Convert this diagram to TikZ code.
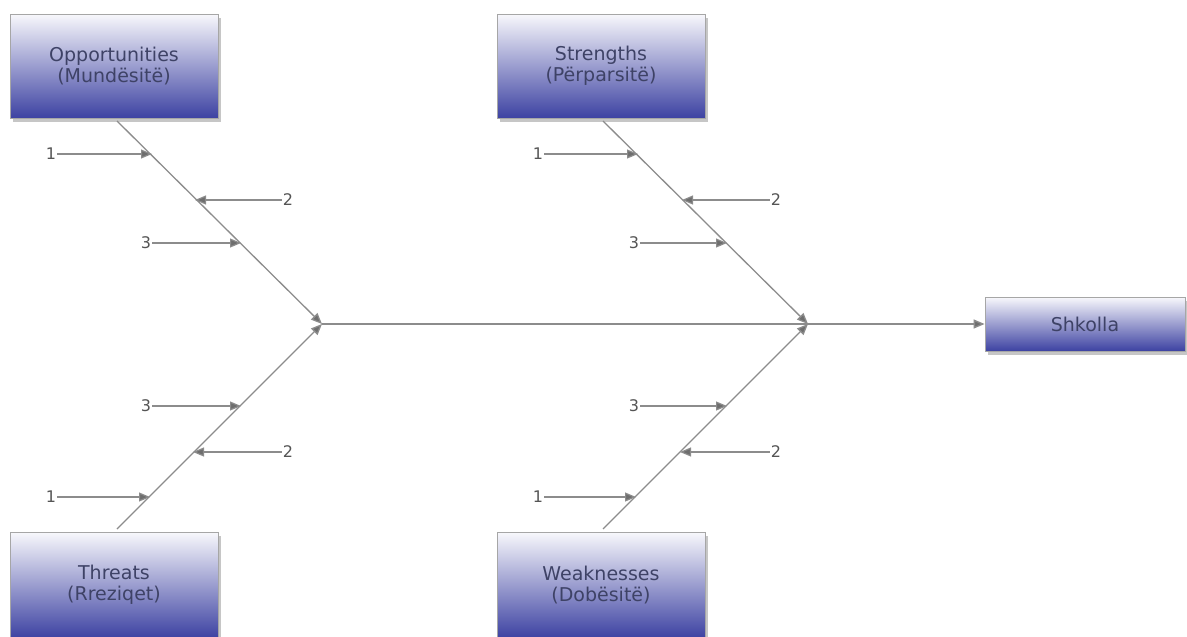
\documentclass[tikz,border=0pt]{standalone}
\usepackage{fontspec}
\setmainfont{DejaVu Sans}
\usetikzlibrary{arrows.meta,shadows}
\definecolor{boxtop}{HTML}{F8F8FC}
\definecolor{boxbot}{HTML}{3D42A2}
\definecolor{boxtext}{HTML}{3E4266}
\definecolor{bone}{HTML}{8C8C8C}
\definecolor{tipc}{HTML}{6E6E6E}
\definecolor{numc}{HTML}{555555}
\tikzset{
  catbox/.style={draw=gray!70, line width=0.8pt, top color=boxtop, bottom color=boxbot,
    minimum width=208pt, minimum height=104pt, inner sep=0pt, align=center,
    text=boxtext, font=\fontsize{19}{21}\selectfont,
    drop shadow={opacity=0.45, shadow xshift=3pt, shadow yshift=-4pt}},
  bonel/.style={draw=bone, line width=1.4pt},
  sub/.style={draw=bone, line width=1.2pt, -{Triangle[length=11pt,width=9pt,fill=tipc]}},
  numl/.style={text=numc, font=\fontsize{16}{16}\selectfont, inner sep=1pt},
}
\begin{document}
\begin{tikzpicture}[x=1pt,y=-1pt]
\useasboundingbox (0,0) rectangle (1187,637);
% boxes
\node[catbox] (opp) at (114,66) {Opportunities\\(Mundësitë)};
\node[catbox] (str) at (601,66) {Strengths\\(Përparsitë)};
\node[catbox, minimum height=106pt] (thr) at (114,585) {Threats\\(Rreziqet)};
\node[catbox, minimum height=106pt] (wea) at (601,585) {Weaknesses\\(Dobësitë)};
\node[catbox, minimum width=200pt, minimum height=54pt] (sch) at (1085,324) {Shkolla};
% junctions and bone ends
\coordinate (j1) at (322,324);
\coordinate (j2) at (808,324);
\coordinate (tl) at (117,121);
\coordinate (bl) at (117,529);
\coordinate (tr) at (603,121);
\coordinate (br) at (603,529);
% spine
\draw[bonel] (j1) -- (j2);
\draw[sub, line width=1.4pt] (j2) -- (sch.west);
% bones
\draw[sub, line width=1.3pt] (tl) -- (j1);
\draw[sub, line width=1.3pt] (bl) -- (j1);
\draw[sub, line width=1.3pt] (tr) -- (j2);
\draw[sub, line width=1.3pt] (br) -- (j2);
% points on bones (left)
\coordinate (a1) at (152,154);
\coordinate (a2) at (195,200);
\coordinate (a3) at (241,243);
\coordinate (b3) at (241,406);
\coordinate (b2) at (193,452);
\coordinate (b1) at (150,497);
% points on bones (right)
\coordinate (c1) at (638,154);
\coordinate (c2) at (682,200);
\coordinate (c3) at (727,243);
\coordinate (d3) at (727,406);
\coordinate (d2) at (680,452);
\coordinate (d1) at (636,497);
% number labels (left)
\node[numl] (n1) at (51,154) {1};
\node[numl] (n2) at (288,200) {2};
\node[numl] (n3) at (146,243) {3};
\node[numl] (m3) at (146,406) {3};
\node[numl] (m2) at (288,452) {2};
\node[numl] (m1) at (51,497) {1};
% number labels (right)
\node[numl] (p1) at (538,154) {1};
\node[numl] (p2) at (776,200) {2};
\node[numl] (p3) at (634,243) {3};
\node[numl] (q3) at (634,406) {3};
\node[numl] (q2) at (776,452) {2};
\node[numl] (q1) at (538,497) {1};
% sub arrows
\draw[sub] (n1) -- (a1);
\draw[sub] (n2) -- (a2);
\draw[sub] (n3) -- (a3);
\draw[sub] (m3) -- (b3);
\draw[sub] (m2) -- (b2);
\draw[sub] (m1) -- (b1);
\draw[sub] (p1) -- (c1);
\draw[sub] (p2) -- (c2);
\draw[sub] (p3) -- (c3);
\draw[sub] (q3) -- (d3);
\draw[sub] (q2) -- (d2);
\draw[sub] (q1) -- (d1);
\end{tikzpicture}
\end{document}
